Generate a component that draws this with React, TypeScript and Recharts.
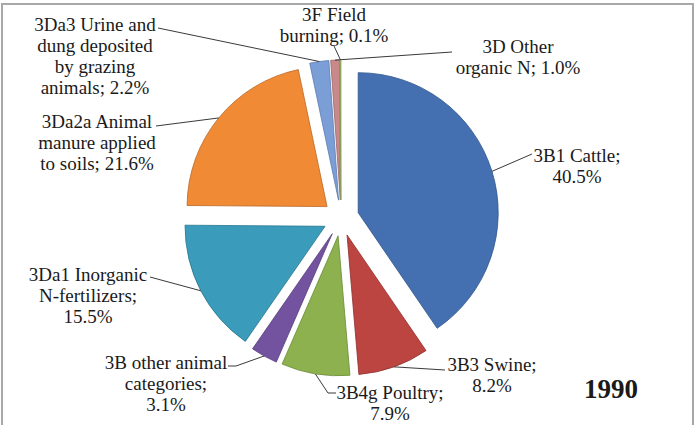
import { PieChart, Pie, Sector } from "recharts";

const categories = [
  "3B1 Cattle",
  "3B3 Swine",
  "3B4g Poultry",
  "3B other animal categories",
  "3Da1 Inorganic N-fertilizers",
  "3Da2a Animal manure applied to soils",
  "3Da3 Urine and dung deposited by grazing animals",
  "3D Other organic N",
  "3F Field burning",
];
const shares = [40.5, 8.2, 7.9, 3.1, 15.5, 21.6, 2.2, 1.0, 0.1];
const labelText = [
  ["3B1 Cattle;", "40.5%"],
  ["3B3 Swine;", "8.2%"],
  ["3B4g Poultry;", "7.9%"],
  ["3B other animal", "categories;", "3.1%"],
  ["3Da1 Inorganic", "N-fertilizers;", "15.5%"],
  ["3Da2a Animal", "manure applied", "to soils; 21.6%"],
  ["3Da3 Urine and", "dung deposited", "by grazing", "animals; 2.2%"],
  ["3D Other", "organic N; 1.0%"],
  ["3F Field", "burning; 0.1%"],
];
const year = "1990";

const colors = ["#4470B2", "#BC4542", "#8CB14E", "#7352A0", "#3A9CBA", "#F08A35", "#7C9ED6", "#C9898A", "#A9C46F"];
const edges = ["#2F5488", "#8E2F2D", "#6A8A36", "#553C7A", "#26768E", "#B9682A", "#5C7CB0", "#9C6465", "#809A50"];

// label placement: text centre x, first baseline, leader line points (label end first)
const labelLayout = [
  { x: 577, y: 162, line: [[532, 154]] },
  { x: 492, y: 371, line: [[445, 370]] },
  { x: 390, y: 399, line: [[336, 393], [328, 393]] },
  { x: 166, y: 369, line: [[228, 366], [236, 366]] },
  { x: 88, y: 281, line: [[150, 277]] },
  { x: 97, y: 128, line: [[156, 126]] },
  { x: 95, y: 31, line: [[158, 28]] },
  { x: 518, y: 53, line: [[452, 52]] },
  { x: 334, y: 21, line: [[334, 46]] },
];

const data = categories.map((name, i) => ({ name, value: shares[i] }));

const FONT = '"Liberation Serif", "Times New Roman", serif';
const EXPLODE = 18;
const RAD = Math.PI / 180;

// exploded slice + leader line, drawn from the sector geometry recharts computes
function renderSlice(props: any) {
  const { cx, cy, outerRadius, startAngle, endAngle, index } = props;
  const mid = (startAngle + endAngle) / 2;
  const sx = cx + Math.cos(-mid * RAD) * EXPLODE;
  const sy = cy + Math.sin(-mid * RAD) * EXPLODE;
  const ex = sx + Math.cos(-mid * RAD) * outerRadius;
  const ey = sy + Math.sin(-mid * RAD) * outerRadius;
  const pts = [...labelLayout[index].line].reverse().map((p) => p.join(",")).join(" ");
  return (
    <g key={`slice-${index}`}>
      <Sector
        cx={sx}
        cy={sy}
        innerRadius={0}
        outerRadius={outerRadius}
        startAngle={startAngle}
        endAngle={endAngle}
        fill={colors[index]}
        stroke={edges[index]}
        strokeWidth={0.8}
      />
      <polyline points={`${ex},${ey} ${pts}`} fill="none" stroke="#3a3a3a" strokeWidth={1} />
    </g>
  );
}

export default function App() {
  return (
    <div
      style={{
        position: "absolute",
        left: 0,
        top: 0,
        width: 698,
        height: 425,
        overflow: "hidden",
        background: "#ffffff",
      }}
    >
      <div
        style={{
          position: "absolute",
          left: 1,
          top: 3,
          width: 689,
          height: 460,
          border: "2px solid #A8A8A8",
        }}
      />
      <PieChart width={698} height={425} style={{ position: "absolute", left: 0, top: 0 }}>
        <Pie
          data={data}
          dataKey="value"
          nameKey="name"
          cx={336}
          cy={213}
          innerRadius={0}
          outerRadius={140}
          startAngle={90}
          endAngle={-270}
          fill="none"
          stroke="none"
          label={renderSlice}
          labelLine={false}
          isAnimationActive={false}
        />
        {labelText.map((lines, i) => (
          <text
            key={`lbl-${i}`}
            x={labelLayout[i].x}
            y={labelLayout[i].y}
            textAnchor="middle"
            fontFamily={FONT}
            fontSize={19}
            fill="#1a1a1a"
          >
            {lines.map((t, j) => (
              <tspan key={j} x={labelLayout[i].x} dy={j === 0 ? 0 : 21}>
                {t}
              </tspan>
            ))}
          </text>
        ))}
        <text
          x={611}
          y={398}
          textAnchor="middle"
          fontFamily={FONT}
          fontSize={27}
          fontWeight="bold"
          fill="#1a1a1a"
        >
          {year}
        </text>
      </PieChart>
    </div>
  );
}
